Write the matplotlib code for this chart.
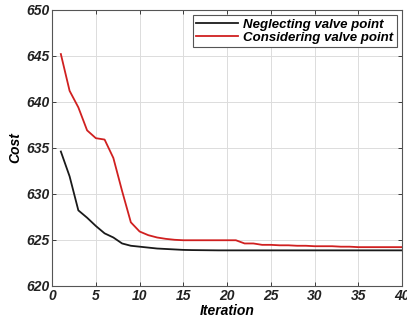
import numpy as np
import matplotlib
matplotlib.use('Agg')
import matplotlib.pyplot as plt

# --- Data
iteration = np.arange(1, 41)
neglecting = [634.6, 631.9, 628.2, 627.4, 626.5, 625.7, 625.25, 624.6, 624.35, 624.25,
              624.15, 624.05, 624.0, 623.95, 623.9, 623.88, 623.87, 623.86, 623.85, 623.85,
              623.85, 623.85, 623.85, 623.85, 623.85, 623.85, 623.85, 623.85, 623.85, 623.85,
              623.85, 623.85, 623.85, 623.85, 623.85, 623.85, 623.85, 623.85, 623.85, 623.85]
considering = [645.2, 641.2, 639.4, 636.9, 636.05, 635.9, 633.9, 630.3, 626.9, 625.9,
               625.5, 625.25, 625.1, 625.0, 624.95, 624.95, 624.95, 624.95, 624.95, 624.95,
               624.95, 624.6, 624.6, 624.45, 624.45, 624.4, 624.4, 624.35, 624.35, 624.3,
               624.3, 624.3, 624.25, 624.25, 624.2, 624.2, 624.2, 624.2, 624.2, 624.2]
labels = ['Neglecting valve point', 'Considering valve point']
xticks = [0, 5, 10, 15, 20, 25, 30, 35, 40]
yticks = [620, 625, 630, 635, 640, 645, 650]

plt.rcParams['font.family'] = ['Liberation Sans', 'DejaVu Sans']

fig, ax = plt.subplots(figsize=(4.07, 3.2), dpi=100)
fig.subplots_adjust(left=0.128, right=0.988, top=0.969, bottom=0.107)

ax.plot(iteration, neglecting, color='#1a1a1a', lw=1.3, label=labels[0])
ax.plot(iteration, considering, color='#d02020', lw=1.3, label=labels[1])

ax.set_xlim(0, 40)
ax.set_ylim(620, 650)
ax.set_xticks(xticks)
ax.set_yticks(yticks)
fnt = dict(fontsize=10, fontweight='bold', fontstyle='italic')
ax.set_xticklabels([str(t) for t in xticks], **fnt)
ax.set_yticklabels([str(t) for t in yticks], **fnt)
ax.tick_params(direction='in', top=True, right=True, length=3, width=0.6, pad=2, colors='#222222')
ax.grid(True, color='#dcdcdc', lw=0.7)
for s in ax.spines.values():
    s.set_color('#555555')
    s.set_linewidth(0.8)

ax.set_xlabel('Iteration', labelpad=1, **fnt)
ax.set_ylabel('Cost', labelpad=3, **fnt)

leg = ax.legend(loc='upper right', fancybox=False, edgecolor='#555555', framealpha=1,
                borderaxespad=0.4, handlelength=3.2, handletextpad=0.4, borderpad=0.25,
                labelspacing=0.05, prop=dict(family=['Liberation Sans'], size=9.5,
                                              weight='bold', style='italic'))
leg.get_frame().set_linewidth(0.8)

fig.savefig('out.png', dpi=100)
